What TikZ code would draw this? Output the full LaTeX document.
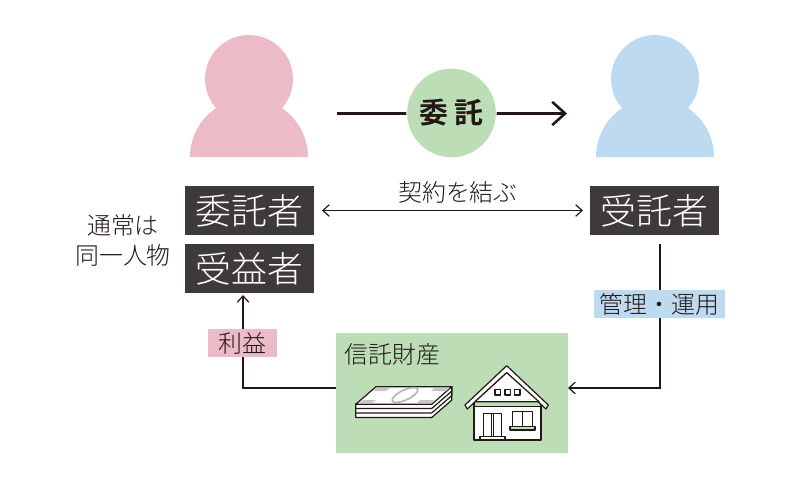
\documentclass[tikz,border=0pt]{standalone}
\usepackage{fontspec}
\setmainfont{Noto Sans CJK JP Light}[BoldFont={Noto Sans CJK JP Bold}]
\usepackage{xcolor}
\usetikzlibrary{arrows.meta,positioning}
\definecolor{pinkfill}{HTML}{ECBBC8}
\definecolor{bluefill}{HTML}{BDDAF1}
\definecolor{greenfill}{HTML}{BCDDB6}
\definecolor{darkbox}{HTML}{3E3A39}
\definecolor{inkline}{HTML}{231815}

\begin{document}
\begin{tikzpicture}[x=0.25mm, y=-0.25mm, font=\fontsize{17}{20}\selectfont, text=inkline,
  rolebox/.style={fill=darkbox, text=white, minimum width=32.25mm, minimum height=12.25mm,
              inner sep=0pt, font=\fontsize{25.5}{30}\selectfont},
  tag/.style={inner sep=0pt, minimum height=7mm},
  arr/.style={-{Straight Barb[length=1.6mm,width=2.9mm]}, line width=0.3mm, draw=inkline},
  icon/.style={draw=inkline, line width=0.3mm, line join=round}]
\useasboundingbox (0,0) rectangle (800,488);
% --- the two people ---
\fill[pinkfill] (249,79) circle (44);
\fill[pinkfill] (190,157) arc[start angle=180, end angle=360, radius=59] -- cycle;
\fill[bluefill] (655,79) circle (44);
\fill[bluefill] (596,157) arc[start angle=180, end angle=360, radius=59] -- cycle;
% --- delegation arrow ---
\coordinate (delegstart) at (337,113.5);
\coordinate (delegend) at (567,113.5);
\draw[-{Straight Barb[length=3.2mm,width=5.8mm]}, line width=0.65mm, draw=inkline] (delegstart) -- (delegend);
\node[circle, fill=greenfill, draw=white, line width=0.2mm, minimum size=22.4mm, inner sep=0pt, font=\fontsize{20.5}{24}\selectfont\bfseries] (deleg) at (451.5,113) {委\hspace{4.5pt}託};
% --- role boxes ---
\node[rolebox] (settlor) at (249.5,210.5) {委託者};
\node[rolebox] (benef) at (249.5,268.5) {受益者};
\node[rolebox] (trustee) at (654.5,210.5) {受託者};
\node[align=center, font=\fontsize{17}{21.3}\selectfont] (same) at (123,240) {通常は\\同一人物};
\coordinate (contractl) at (322,210.5);
\coordinate (contractr) at (583,210.5);
\draw[{Straight Barb[length=1.6mm,width=2.9mm]}-{Straight Barb[length=1.6mm,width=2.9mm]}, line width=0.3mm, draw=inkline]
  (contractl) -- (contractr);
\node (contract) at (458,192) {契約を結ぶ};
% --- trust property ---
\node[fill=greenfill, minimum width=58mm, minimum height=30mm, inner sep=0pt] (fund) at (452,393) {};
\node[anchor=west] (fundname) at (340,354) {信託財産};
% --- connectors ---
\coordinate (mgmttop) at (660,244);
\coordinate (mgmtbend) at (660,388);
\coordinate (fundin) at (568,388);
\draw[arr] (mgmttop) -- (mgmtbend) -- (fundin);
\coordinate (fundout) at (336,388);
\coordinate (benefbend) at (243,388);
\coordinate (benefin) at (243,295);
\draw[arr] (fundout) -- (benefbend) -- (benefin);
\node[tag, fill=bluefill, minimum width=32.75mm] (mgmt) at (659.5,304) {管理・運用};
\node[tag, fill=pinkfill, minimum width=17.2mm] (profit) at (242.3,343.3) {利益};
% --- banknotes ---
\foreach \d in {13.5,9,4.5}
  \draw[icon, fill=white] (355.7,404+\d) -- (431.7,404+\d) -- (451.7,386.7+\d) -- (451.7,386.7) -- (355.7,404) -- cycle;
\draw[icon, fill=white] (355.7,404.3) -- (376,386.7) -- (451.7,386.7) -- (431.7,404.3) -- cycle;
\fill[gray!45] (376.5,388) -- (390,388) -- (386,391) -- (373,391) -- cycle;
\fill[gray!45] (434,388) -- (449.5,388) -- (446,391) -- (431,391) -- cycle;
\fill[gray!45] (359,403) -- (372,403) -- (376,400) -- (363,400) -- cycle;
\fill[gray!45] (417,403) -- (431,403) -- (434.5,400) -- (420,400) -- cycle;
\draw[gray!60, line width=0.4mm, rotate around={25:(405,395)}] (405,395) ellipse (14 and 5);
% --- house ---
\draw[icon, fill=white] (474,406.7) rectangle (541,440);
\draw[icon, fill=greenfill] (474,401.7) rectangle (541,406.7);
\draw[icon, fill=white] (465,405) -- (506.7,365.7) -- (548.3,405) -- (546,409) -- (506.7,372.7) -- (467.3,409) -- cycle;
\draw[icon, fill=white] (475,401.7) -- (506.7,372.7) -- (539,401.7) -- cycle;
\draw[icon] (483.3,413.3) rectangle (501.7,436.7) (491.5,413.3) -- (491.5,436.7) (493.5,413.3) -- (493.5,436.7);
\draw[icon] (480,436.7) rectangle (505,440);
\draw[icon] (512.3,411.7) rectangle (532.7,426.7) (522.3,411.7) -- (522.3,426.7);
\draw[icon, fill=greenfill] (510,426.7) rectangle (535,430);
\foreach \h in {495,505,514.3} \draw[icon] (\h,389.3) rectangle ++(5.6,5.6);
\end{tikzpicture}
\end{document}
